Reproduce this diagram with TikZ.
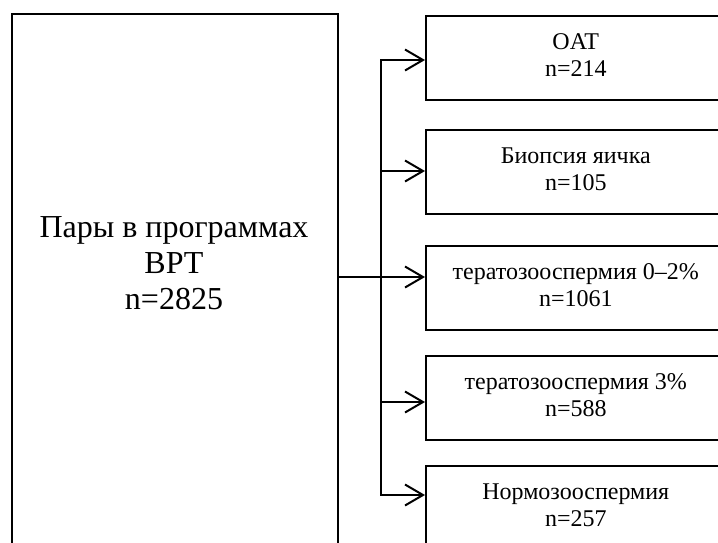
\documentclass[tikz,border=0pt]{standalone}
\usepackage{fontspec}
\setmainfont{Liberation Serif}
\usetikzlibrary{arrows.meta}
\begin{document}
\begin{tikzpicture}[x=1pt,y=-1pt,
  box/.style={draw, line width=1.6pt, rectangle, inner sep=0pt},
  rbox/.style={box, anchor=north west, minimum width=300pt, minimum height=84pt, align=center,
    font=\fontsize{24}{27}\selectfont, text height=45pt, text depth=7pt},
  conn/.style={line width=2pt},
  barb/.tip={Straight Barb[length=18pt,width=21pt]},
  arr/.style={conn, barb-barb},
  one/.style={conn, -barb}]
\useasboundingbox (0,0) rectangle (718,542);
\begin{scope}
\clip (0,0) rectangle (718,542);
\node[box, anchor=north west, minimum width=326pt, minimum height=560pt] (src) at (11,13) {};
\node[font=\fontsize{32}{36}\selectfont, align=center, anchor=base] (srctext) at (174,309)
  {Пары в программах\\ВРТ\\n=2825};
\node[rbox] (b1) at (425,15)  {OAT\\n=214};
\node[rbox] (b2) at (425,129) {Биопсия яичка\\n=105};
\node[rbox] (b3) at (425,245) {тератозооспермия 0–2\%\\n=1061};
\node[rbox] (b4) at (425,355) {тератозооспермия 3\%\\n=588};
\node[rbox] (b5) at (425,465) {Нормозооспермия\\n=257};
\coordinate (t1) at (381,60);
\coordinate (t2) at (381,171);
\coordinate (t3) at (381,277);
\coordinate (t4) at (381,402);
\coordinate (t5) at (381,495);
\draw[arr] (t1 -| b1.west) -- (t1) -- (t5) -- (t5 -| b5.west);
\draw[one] (t2) -- (t2 -| b2.west);
\draw[one] (src.east |- t3) -- (t3 -| b3.west);
\draw[one] (t4) -- (t4 -| b4.west);
\end{scope}
\end{tikzpicture}
\end{document}
